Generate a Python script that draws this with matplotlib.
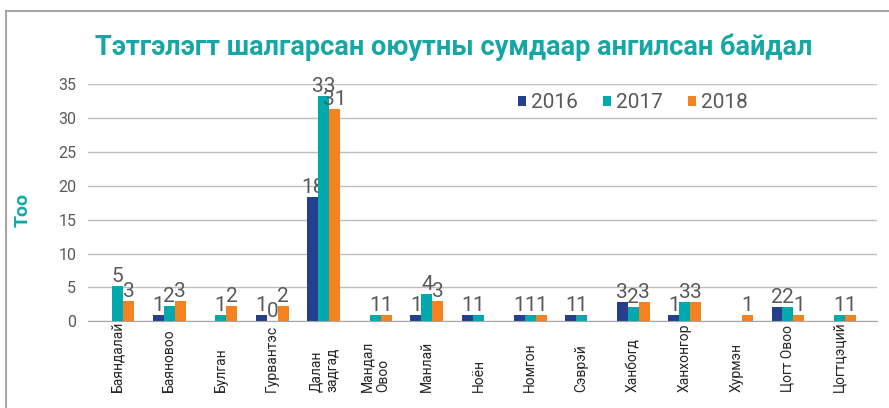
import numpy as np
import matplotlib
matplotlib.use('Agg')
import matplotlib.pyplot as plt
from matplotlib.lines import Line2D
from matplotlib.patches import Patch

plt.rcParams['font.family'] = ['Roboto', 'DejaVu Sans']

# -------------------------------
# Data
# -------------------------------
soums = ['Баяндалай', 'Баяновоо', 'Булган', 'Гурвантэс', 'Далан\nзадгад',
         'Мандал\nОвоо', 'Манлай', 'Ноён', 'Номгон', 'Сэврэй', 'Ханбогд',
         'Ханхонгор', 'Хурмэн', 'Цогт Овоо', 'Цогтцэций']
years = ['2016', '2017', '2018']
nan = np.nan
v2016 = [nan, 1, nan, 1, 18.4, nan, 1, 1, 1, 1, 2.9, 1, nan, 2.1, nan]
v2017 = [5.2, 2.2, 1, 0, 33.3, 1, 4.0, 1, 1, 1, 2.1, 2.9, nan, 2.1, 1]
v2018 = [3.0, 3.0, 2.2, 2.2, 31.4, 1, 3.0, nan, 1, nan, 2.9, 2.9, 1, 1, 1]
colors = ['#243F8E', '#00A9AE', '#F58220']

teal = '#14A7A5'
grey_txt = '#595959'

# -------------------------------
# Figure
# -------------------------------
fig = plt.figure(figsize=(8.89, 4.08), dpi=100)
ax = fig.add_axes([88 / 889, 86.7 / 408, 788.7 / 889, 237 / 408])

x = np.arange(len(soums))
w = 0.213
for i, (vals, c) in enumerate(zip([v2016, v2017, v2018], colors)):
    bars = ax.bar(x + (i - 1) * w, vals, width=w, color=c, zorder=3)
    labels = ['' if np.isnan(v) else f'{v:.0f}' for v in vals]
    ax.bar_label(bars, labels=labels, padding=0, fontsize=15, color=grey_txt)

ax.set_ylim(0, 35)
ax.set_xlim(-0.572, 14.72)
ax.set_yticks(range(0, 36, 5))
ax.yaxis.grid(True, color='#BFBFBF', linewidth=1.0, zorder=0)
ax.tick_params(axis='y', length=0, pad=8.5, labelsize=11.5, labelcolor=grey_txt)

ax.set_xticks(x, soums, rotation=90, va='bottom', ha='center', multialignment='left')
ax.tick_params(axis='x', length=0, pad=51, labelsize=10, labelcolor='#262626')

for s in ['top', 'right', 'left']:
    ax.spines[s].set_visible(False)
ax.spines['bottom'].set_color('#A6A6A6')
ax.spines['bottom'].set_zorder(4)

ax.set_ylabel('Тоо', color=teal, fontsize=14, fontweight='bold')
ax.yaxis.set_label_coords(-0.072, 0.47)

# legend
handles = [Patch(facecolor=c) for c in colors]
fig.legend(handles, years, loc='center left', ncol=3, frameon=False,
           bbox_to_anchor=(518 / 889, 1 - 103 / 408), bbox_transform=fig.transFigure,
           labelcolor=grey_txt, handlelength=0.38, handleheight=0.38,
           handletextpad=0.25, columnspacing=1.2, borderpad=0, borderaxespad=0,
           prop={'size': 15})

# title
fig.text(454 / 889, 1 - 47 / 408, 'Тэтгэлэгт шалгарсан оюутны сумдаар ангилсан байдал',
         ha='center', va='center', fontsize=19.5, fontweight='bold', color=teal)

# frame lines (top and left)
fig.add_artist(Line2D([6 / 889, 1], [1 - 11 / 408, 1 - 11 / 408], color='#A6A6A6',
                      linewidth=1.5, transform=fig.transFigure))
fig.add_artist(Line2D([6 / 889, 6 / 889], [0, 1 - 11 / 408], color='#A6A6A6',
                      linewidth=1.5, transform=fig.transFigure))

fig.savefig('out.png', dpi=100)
